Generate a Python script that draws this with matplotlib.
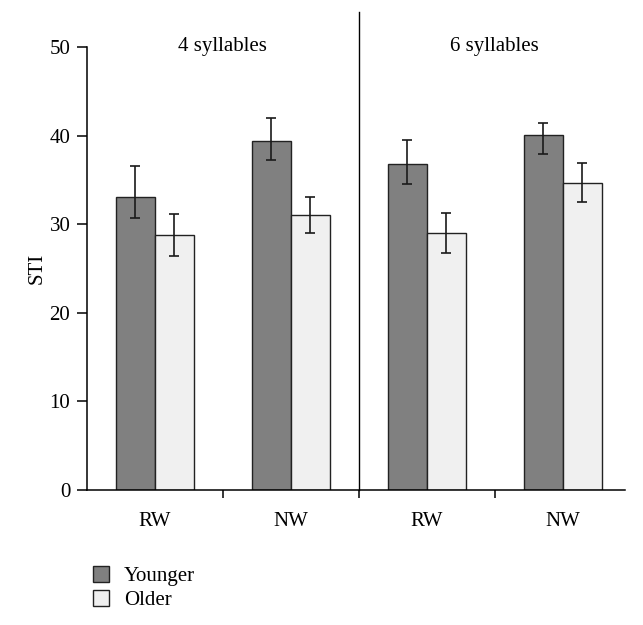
import numpy as np
import matplotlib.pyplot as plt
from matplotlib.patches import Patch

plt.rcParams['font.family'] = ['Liberation Serif', 'DejaVu Serif']

# Data
conditions = ['RW', 'NW', 'RW', 'NW']
blocks = ['4 syllables', '6 syllables']
younger = [33.1, 39.4, 36.8, 40.1]
younger_lo = [2.4, 2.1, 2.3, 2.2]
younger_hi = [3.5, 2.6, 2.7, 1.3]
older = [28.8, 31.0, 29.0, 34.7]
older_lo = [2.4, 2.0, 2.3, 2.2]
older_hi = [2.3, 2.1, 2.3, 2.2]

fig = plt.figure(figsize=(6.43, 6.25), dpi=100)
ax = fig.add_axes([0.1353, 0.216, 0.837, 0.7088])

x = np.arange(len(conditions))
w = 0.287
edge = '#222222'
fs = 15
err_kw = dict(ecolor='#1a1a1a', elinewidth=1.2, capsize=3.5, capthick=1.2)

ax.bar(x - w / 2, younger, w, color='#808080', edgecolor=edge, linewidth=1.0,
       yerr=[younger_lo, younger_hi], error_kw=err_kw, zorder=2)
ax.bar(x + w / 2, older, w, color='#f0f0f0', edgecolor=edge, linewidth=1.0,
       yerr=[older_lo, older_hi], error_kw=err_kw, zorder=2)

ax.set_xlim(-0.5, 3.46)
ax.set_ylim(0, 50)
ax.set_yticks([0, 10, 20, 30, 40, 50])
ax.tick_params(axis='y', labelsize=fs, length=7, width=1.1, pad=5)

# group labels at bar centres, tick marks between groups
ax.set_xticks([0.5, 1.5, 2.5])
ax.set_xticklabels([])
ax.set_xticks(x, minor=True)
ax.set_xticklabels(conditions, minor=True)
ax.tick_params(axis='x', which='major', length=6, width=1.1)
ax.tick_params(axis='x', which='minor', length=0, labelsize=fs, pad=16)

for s in ['top', 'right']:
    ax.spines[s].set_visible(False)
for s in ['left', 'bottom']:
    ax.spines[s].set_linewidth(1.1)

# divider between the two blocks
ax.plot([1.5, 1.5], [0, 54], color='black', lw=1.0, clip_on=False)

ax.text(0.5, 50, blocks[0], ha='center', va='center', fontsize=fs)
ax.text(2.5, 50, blocks[1], ha='center', va='center', fontsize=fs)

ax.set_ylabel('STI', fontsize=fs)
ax.yaxis.set_label_coords(-0.075, 0.5)

handles = [Patch(facecolor='#808080', edgecolor=edge, linewidth=1.0, label='Younger'),
           Patch(facecolor='#f0f0f0', edgecolor=edge, linewidth=1.0, label='Older')]
fig.legend(handles=handles, loc='upper left', bbox_to_anchor=(0.131, 0.108),
           frameon=False, fontsize=fs, handlelength=0.8, handleheight=0.8,
           handletextpad=0.7, labelspacing=0.2, borderaxespad=0)

fig.savefig('out.png', dpi=100)
